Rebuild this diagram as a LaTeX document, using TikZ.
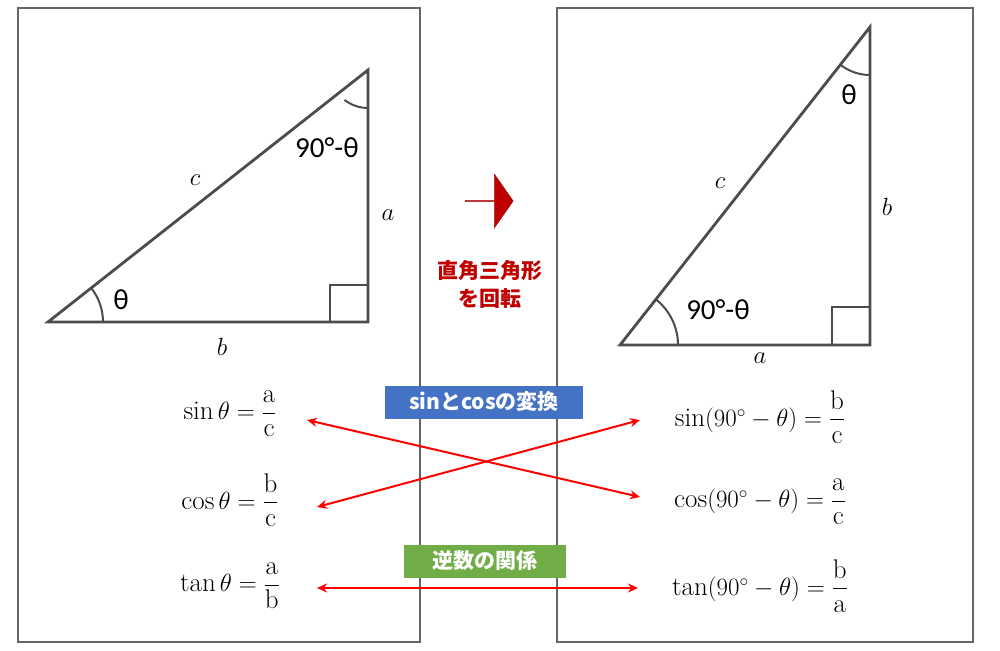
\documentclass[tikz,border=0pt]{standalone}
\usepackage{fontspec}
\usepackage{amsmath}
\setsansfont{Carlito}
\newfontfamily\cjk{Noto Sans CJK JP}
\usetikzlibrary{shapes.arrows,arrows.meta}
\begin{document}
\begin{tikzpicture}[x=1pt,y=-1pt,
  frame/.style={draw=black!60,line width=1.2pt},
  tri/.style={draw=black!70,line width=2.8pt,line join=miter},
  thinline/.style={draw=black!70,line width=2pt},
  lbl/.style={font=\sffamily\fontsize{29}{32}\selectfont},
  vlab/.style={font=\fontsize{29}{32}\selectfont},
  eq/.style={font=\fontsize{27}{30}\selectfont},
  tag/.style={font=\cjk\bfseries\fontsize{21}{24}\selectfont,text=white,minimum width=198pt,minimum height=33pt,inner sep=0pt},
  rarr/.style={draw=red,line width=2pt,{Stealth[length=10pt,width=9pt]}-{Stealth[length=10pt,width=9pt]}}]
\useasboundingbox (0,0) rectangle (1000,650);
\draw[frame] (18,8) rectangle (420,642);
\draw[frame] (557,8) rectangle (973,642);
% left triangle
\coordinate (A) at (48,322); \coordinate (B) at (368,322); \coordinate (C) at (368,70);
\draw[tri] (A) -- (B) -- (C) -- cycle;
\draw[thinline] (330,322) -- (330,285) -- (368,285);
\draw[thinline] (103,322) arc[start angle=0,end angle=-38.2,radius=55];
\draw[thinline] (368,108) arc[start angle=90,end angle=128.2,radius=38];
\node[lbl] (t1) at (121,300) {θ};
\node[lbl] (t2) at (327,148) {90°-θ};
\node[vlab] (c1) at (195,180) {$c$};
\node[vlab] (a1) at (388,215) {$a$};
\node[vlab] (b1) at (222,347) {$b$};
% right triangle
\coordinate (D) at (620,345); \coordinate (E) at (870,345); \coordinate (F) at (870,27);
\draw[tri] (D) -- (E) -- (F) -- cycle;
\draw[thinline] (832,345) -- (832,307) -- (870,307);
\draw[thinline] (678,345) arc[start angle=0,end angle=-51.8,radius=58];
\draw[thinline] (870,75) arc[start angle=90,end angle=128.2,radius=48];
\node[lbl] (t3) at (849,95) {θ};
\node[lbl] (t4) at (718,310) {90°-θ};
\node[vlab] (c2) at (720,183) {$c$};
\node[vlab] (b2) at (887,207) {$b$};
\node[vlab] (a2) at (760,358) {$a$};
% middle arrow
\node[single arrow,fill={rgb,255:red,192;green,0;blue,0},draw={rgb,255:red,150;green,0;blue,0},minimum height=48pt,minimum width=54pt,single arrow head extend=10pt,inner sep=0pt,single arrow tip angle=110] (ar) at (489,201) {};
\node[font=\cjk\bfseries\fontsize{21}{28}\selectfont,text={rgb,255:red,192;green,0;blue,0},align=center] (rot) at (490,284) {直角三角形\\を回転};
% tags
\node[tag,fill={rgb,255:red,68;green,114;blue,196}] (tg1) at (484,402) {sinとcosの変換};
\node[tag,fill={rgb,255:red,112;green,173;blue,71},minimum width=162pt] (tg2) at (485,561) {逆数の関係};
% equations
\node[eq] (l1) at (230,414) {$\sin\theta=\dfrac{\mathrm a}{\mathrm c}$};
\node[eq] (l2) at (230,500) {$\cos\theta=\dfrac{\mathrm b}{\mathrm c}$};
\node[eq] (l3) at (230,586) {$\tan\theta=\dfrac{\mathrm a}{\mathrm b}$};
\node[eq] (r1) at (760,417) {$\sin(90^\circ-\theta)=\dfrac{\mathrm b}{\mathrm c}$};
\node[eq] (r2) at (760,502) {$\cos(90^\circ-\theta)=\dfrac{\mathrm a}{\mathrm c}$};
\node[eq] (r3) at (760,586) {$\tan(90^\circ-\theta)=\dfrac{\mathrm b}{\mathrm a}$};
\coordinate (p1) at (307,420); \coordinate (p2) at (640,497);
\coordinate (p3) at (317,507); \coordinate (p4) at (640,420);
\coordinate (p5) at (317,588); \coordinate (p6) at (638,588);
\draw[rarr] (p1) -- (p2);
\draw[rarr] (p3) -- (p4);
\draw[rarr] (p5) -- (p6);
\end{tikzpicture}
\end{document}
